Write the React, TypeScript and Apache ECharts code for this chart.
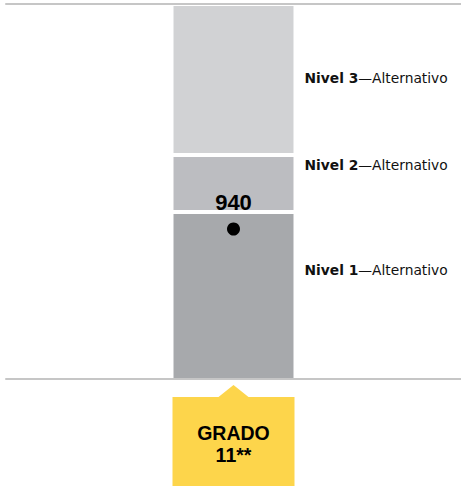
import React, { useEffect, useRef } from "react";
import * as echarts from "echarts";

// ---- data ----
const categories = ["GRADO\n11**"];
const levelNames = ["Nivel 1", "Nivel 2", "Nivel 3"];
const levelSuffix = "—Alternativo";
const levelUpperBounds = [957, 1014, 1165]; // upper score of each level
const scaleMin = 790;
const scaleMax = 1165;
const score = 940;

// ---- styles ----
const levelColors = ["#a7a9ac", "#bcbdc1", "#d1d2d4"];
const labelOffsets: [number, number][] = [
  [133, 58],
  [133, 10],
  [133, 74],
];
const yellow = "#fdd54b";
const lineColor = "#c6c6c6";

export default function App() {
  const ref = useRef<HTMLDivElement>(null);
  useEffect(() => {
    if (!ref.current) return;
    const chart = echarts.init(ref.current, undefined, { renderer: "svg" });

    const barSeries = levelNames.map((name, i) => ({
      type: "bar",
      name,
      stack: "levels",
      barWidth: 124,
      data: [i === 0 ? levelUpperBounds[0] : levelUpperBounds[i] - levelUpperBounds[i - 1]],
      itemStyle: { color: levelColors[i], borderColor: "#ffffff", borderWidth: 2 },
      label: {
        show: true,
        position: labelOffsets[i],
        align: "left",
        verticalAlign: "middle",
        formatter: () => `{b|${name}}{n|${levelSuffix}}`,
        rich: {
          b: { fontFamily: "DejaVu Sans", fontSize: 13.8, fontWeight: "bold", color: "#111" },
          n: { fontFamily: "DejaVu Sans", fontSize: 13.8, color: "#111" },
        },
      },
    }));

    chart.setOption({
      animation: false,
      textStyle: { fontFamily: "Liberation Sans, Arial, sans-serif" },
      grid: { left: 6, right: 0, top: 4, height: 375 },
      xAxis: [
        {
          type: "category",
          data: categories,
          position: "bottom",
          z: 5,
          axisLine: { onZero: false, lineStyle: { color: lineColor, width: 2 } },
          axisTick: { show: false },
          axisLabel: {
            margin: 18,
            color: "#000",
            fontFamily: "Liberation Sans",
            fontSize: 19.5,
            fontWeight: "bold",
            lineHeight: 22,
            backgroundColor: yellow,
            width: 122,
            padding: [25, 0, 20, 0],
            align: "center",
            verticalAlign: "top",
          },
        },
        {
          type: "category",
          data: categories,
          position: "top",
          z: 5,
          axisLine: { onZero: false, lineStyle: { color: lineColor, width: 2 } },
          axisTick: { show: false },
          axisLabel: { show: false },
        },
      ],
      yAxis: {
        type: "value",
        min: scaleMin,
        max: scaleMax,
        show: false,
        splitLine: { show: false },
      },
      series: [
        ...barSeries,
        {
          type: "scatter",
          data: [[0, score]],
          symbolSize: 13,
          itemStyle: { color: "#000", opacity: 1 },
          z: 4,
          label: {
            show: true,
            position: "top",
            distance: 9,
            formatter: () => String(score),
            fontFamily: "Liberation Sans",
            fontSize: 22,
            fontWeight: "bold",
            color: "#000",
            opacity: 1,
          },
        },
      ],
    });

    const cx = chart.convertToPixel({ xAxisIndex: 0 }, 0) as number;
    const baseY = chart.convertToPixel({ yAxisIndex: 0 }, scaleMin) as number;
    chart.setOption({
      graphic: [
        {
          type: "polygon",
          shape: {
            points: [
              [cx - 15, baseY + 18],
              [cx + 15, baseY + 18],
              [cx, baseY + 6],
            ],
          },
          style: { fill: yellow },
        },
      ],
    });

    return () => chart.dispose();
  }, []);
  return (
    <div
      ref={ref}
      style={{ position: "absolute", left: 0, top: 0, width: 461, height: 486 }}
    />
  );
}
